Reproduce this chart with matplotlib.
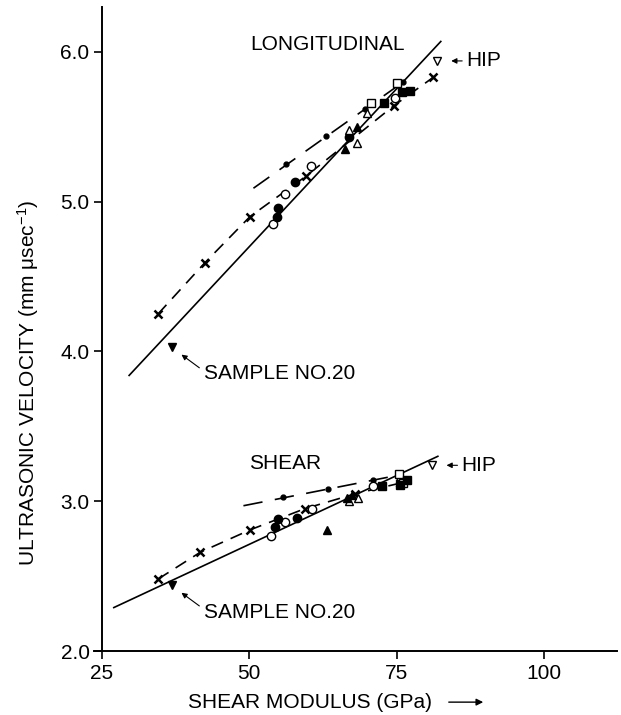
import numpy as np
import matplotlib.pyplot as plt

plt.rcParams['font.family'] = ['Liberation Sans', 'DejaVu Sans']
plt.rcParams['mathtext.default'] = 'regular'
plt.rcParams['lines.scale_dashes'] = False

# ---- longitudinal data ----
long_fit_x = [29.6, 82.5]
long_fit_y = [3.84, 6.07]
long_cross_x = [34.5, 42.4, 50.1, 59.6, 74.5, 81.2]
long_cross_y = [4.25, 4.59, 4.90, 5.17, 5.64, 5.83]
long_dot_x = [56.3, 63.1, 69.7, 76.0]
long_dot_y = [5.25, 5.44, 5.62, 5.80]
long_dotline_x = [50.7, 76.5]
long_dotline_y = [5.09, 5.81]
long_ocirc_x = [54.1, 56.1, 60.5, 74.7]
long_ocirc_y = [4.85, 5.05, 5.24, 5.69]
long_fcirc_x = [54.7, 54.9, 57.8, 66.9]
long_fcirc_y = [4.90, 4.96, 5.13, 5.43]
long_otri_x = [66.9, 68.2, 70.0]
long_otri_y = [5.48, 5.39, 5.59]
long_ftri_x = [66.3, 68.2]
long_ftri_y = [5.35, 5.50]
long_osq_x = [70.6, 75.1]
long_osq_y = [5.66, 5.79]
long_fsq_x = [72.8, 75.9, 77.2]
long_fsq_y = [5.66, 5.73, 5.74]
long_hip = (81.8, 5.94)
long_s20 = (36.8, 4.03)

# ---- shear data ----
shear_fit_x = [27.0, 82.0]
shear_fit_y = [2.29, 3.30]
shear_cross_x = [34.5, 41.7, 50.2, 59.4, 68.0, 75.5]
shear_cross_y = [2.48, 2.66, 2.81, 2.95, 3.05, 3.12]
shear_dot_x = [55.7, 63.3, 71.0]
shear_dot_y = [3.03, 3.08, 3.14]
shear_dotline_x = [49.0, 73.5]
shear_dotline_y = [2.97, 3.16]
shear_ocirc_x = [53.7, 56.1, 60.6, 71.0]
shear_ocirc_y = [2.77, 2.86, 2.95, 3.10]
shear_fcirc_x = [54.3, 54.8, 58.1]
shear_fcirc_y = [2.83, 2.88, 2.89]
shear_otri_x = [67.0, 68.4]
shear_otri_y = [3.00, 3.02]
shear_ftri_x = [66.6, 67.5, 63.2]
shear_ftri_y = [3.02, 3.04, 2.81]
shear_osq_x = [75.4, 76.0]
shear_osq_y = [3.18, 3.12]
shear_fsq_x = [72.5, 75.6, 76.8]
shear_fsq_y = [3.10, 3.11, 3.14]
shear_hip = (81.0, 3.24)
shear_s20 = (36.8, 2.44)

fig = plt.figure(figsize=(6.21, 7.15), dpi=100)
ax = fig.add_axes([0.151, 0.0895, 0.8425, 0.9007])

k = 'black'
ms = 6

def draw_group(fit_x, fit_y, cx, cy, dx, dy, dlx, dly, ocx, ocy, fcx, fcy,
               otx, oty, ftx, fty, osx, osy, fsx, fsy, hip, s20):
    ax.plot(fit_x, fit_y, '-', color=k, lw=1.2)
    ax.plot(cx, cy, color=k, lw=1.2, dashes=(9, 6))
    ax.plot(cx, cy, 'x', color=k, ms=6, mew=1.8, ls='none')
    ax.plot(dlx, dly, color=k, lw=1.2, dashes=(14, 9))
    ax.plot(dx, dy, 'o', color=k, ms=3.5, ls='none')
    ax.plot(ocx, ocy, 'o', mfc='white', mec=k, ms=ms, mew=1, ls='none')
    ax.plot(fcx, fcy, 'o', color=k, ms=ms, ls='none')
    ax.plot(otx, oty, '^', mfc='white', mec=k, ms=ms, mew=1, ls='none')
    ax.plot(ftx, fty, '^', color=k, ms=ms, ls='none')
    ax.plot(osx, osy, 's', mfc='white', mec=k, ms=ms, mew=1, ls='none')
    ax.plot(fsx, fsy, 's', color=k, ms=ms, ls='none')
    ax.plot([hip[0]], [hip[1]], 'v', mfc='white', mec=k, ms=ms, mew=1)
    ax.plot([s20[0]], [s20[1]], 'v', color=k, ms=ms)
    # HIP label
    ax.annotate('', xy=(hip[0] + 2.0, hip[1]), xytext=(hip[0] + 4.8, hip[1]),
                arrowprops=dict(arrowstyle='-|>', color=k, lw=0.8, mutation_scale=8))
    ax.text(hip[0] + 5.0, hip[1], 'HIP', fontsize=15, va='center', ha='left')
    # sample 20 label
    ax.annotate('', xy=(s20[0] + 1.3, s20[1] - 0.04), xytext=(s20[0] + 5.1, s20[1] - 0.15),
                arrowprops=dict(arrowstyle='-|>', color=k, lw=0.8, mutation_scale=8))
    ax.text(s20[0] + 5.5, s20[1] - 0.18, 'SAMPLE NO.20', fontsize=15, va='center', ha='left')

draw_group(long_fit_x, long_fit_y, long_cross_x, long_cross_y, long_dot_x, long_dot_y,
           long_dotline_x, long_dotline_y, long_ocirc_x, long_ocirc_y, long_fcirc_x, long_fcirc_y,
           long_otri_x, long_otri_y, long_ftri_x, long_ftri_y, long_osq_x, long_osq_y,
           long_fsq_x, long_fsq_y, long_hip, long_s20)
draw_group(shear_fit_x, shear_fit_y, shear_cross_x, shear_cross_y, shear_dot_x, shear_dot_y,
           shear_dotline_x, shear_dotline_y, shear_ocirc_x, shear_ocirc_y, shear_fcirc_x, shear_fcirc_y,
           shear_otri_x, shear_otri_y, shear_ftri_x, shear_ftri_y, shear_osq_x, shear_osq_y,
           shear_fsq_x, shear_fsq_y, shear_hip, shear_s20)

ax.text(63.3, 6.05, 'LONGITUDINAL', fontsize=15, ha='center', va='center')
ax.text(56.1, 3.25, 'SHEAR', fontsize=15, ha='center', va='center')

ax.set_xlim(23.6, 112.4)
ax.set_ylim(2.0, 6.3)
ax.spines['top'].set_visible(False)
ax.spines['right'].set_visible(False)
ax.spines['left'].set_position(('data', 25))
ax.spines['left'].set_linewidth(1.4)
ax.spines['bottom'].set_linewidth(1.4)
ax.set_xticks([25, 50, 75, 100])
ax.set_yticks([2, 3, 4, 5, 6])
ax.set_yticklabels(['2.0', '3.0', '4.0', '5.0', '6.0'])
ax.tick_params(direction='out', length=6, width=1.2, labelsize=15)
ax.tick_params(axis='y', pad=3)
ax.tick_params(axis='x', pad=3)

fig.text(0.5, 0.018, 'SHEAR MODULUS (GPa)', fontsize=15, ha='center', va='center')
ax.annotate('', xy=(486 / 621, 0.018), xytext=(446 / 621, 0.018), xycoords='figure fraction',
            arrowprops=dict(arrowstyle='-|>', color=k, lw=1, mutation_scale=10))
fig.text(0.045, 0.464, 'ULTRASONIC VELOCITY (mm \u03bcsec$^{-1}$)', fontsize=15,
         rotation=90, ha='center', va='center')

fig.savefig('out.png', dpi=100)
